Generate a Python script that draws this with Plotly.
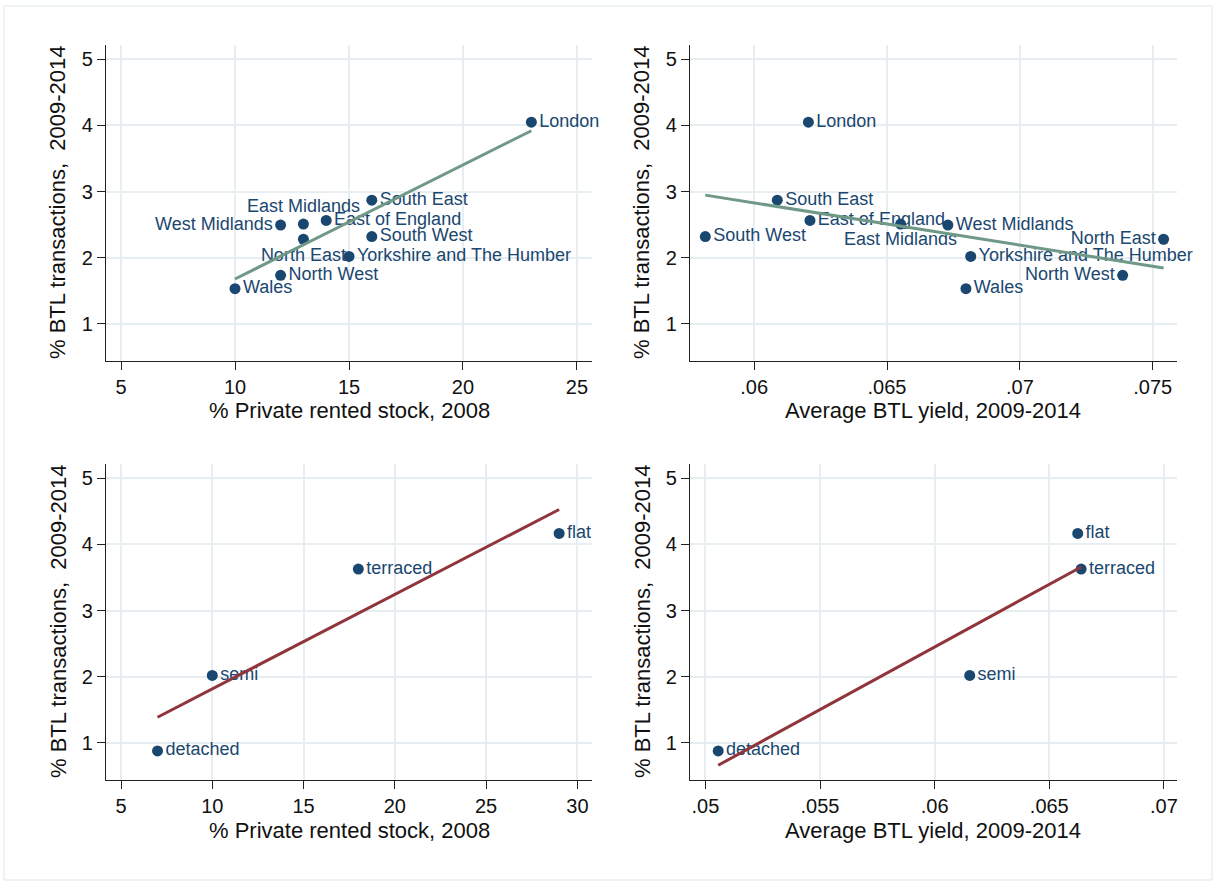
import numpy as np
import plotly.graph_objects as go

# ---------------- data ----------------
regions = ["London", "South East", "East of England", "East Midlands", "West Midlands",
           "North East", "South West", "Yorkshire and The Humber", "North West", "Wales"]
region_btl = [4.05, 2.87, 2.565, 2.51, 2.495, 2.28, 2.32, 2.02, 1.735, 1.533]
region_prs = [23, 16, 14, 13, 12, 13, 16, 15, 12, 10]
region_yield = [0.06204, 0.06087, 0.0621, 0.06551, 0.06729, 0.07541, 0.05816, 0.06815, 0.07387, 0.06797]

types = ["flat", "terraced", "semi", "detached"]
type_btl = [4.166, 3.628, 2.02, 0.879]
type_prs = [29, 18, 10, 7]
type_yield = [0.06624, 0.06639, 0.06153, 0.05056]

y_ticks = [1, 2, 3, 4, 5]
prs_ticks_top = [5, 10, 15, 20, 25]
yield_ticks_top = [0.06, 0.065, 0.07, 0.075]
yield_labels_top = [".06", ".065", ".07", ".075"]
prs_ticks_bot = [5, 10, 15, 20, 25, 30]
yield_ticks_bot = [0.05, 0.055, 0.06, 0.065, 0.07]
yield_labels_bot = [".05", ".055", ".06", ".065", ".07"]

x_title_prs = "% Private rented stock, 2008"
x_title_yield = "Average BTL yield, 2009-2014"
y_title = "% BTL transactions,  2009-2014"

# label positions (style)
pos_tl = ["middle right", "middle right", "middle right", "top center", "middle left",
          "bottom center", "middle right", "middle right", "middle right", "middle right"]
pos_tr = ["middle right", "middle right", "middle right", "bottom center", "middle right",
          "middle left", "middle right", "middle right", "middle left", "middle right"]
pos_b = ["middle right"] * 4

NAVY = "#1a476f"
TEAL = "#6f9886"
MAROON = "#90353b"
GRID = "#e6eef1"
AXC = "#222222"
FONT = "Liberation Sans, Arial, sans-serif"

W, H = 1213, 881


def px_x(p):
    return p / W


def px_y(p):
    return 1 - p / H


fig = go.Figure()


def add_panel(idx, xs, ys, labels, positions, line_color):
    xa = "x" if idx == 1 else f"x{idx}"
    ya = "y" if idx == 1 else f"y{idx}"
    fig.add_trace(go.Scatter(
        x=xs, y=ys, mode="markers+text", text=labels, textposition=positions,
        marker=dict(color=NAVY, size=11, line=dict(width=0)),
        textfont=dict(color=NAVY, size=18, family=FONT),
        xaxis=xa, yaxis=ya, showlegend=False, cliponaxis=False))
    b, a = np.polyfit(np.array(xs, float), np.array(ys, float), 1)
    xf = np.array([min(xs), max(xs)], float)
    fig.add_trace(go.Scatter(
        x=xf, y=a + b * xf, mode="lines", line=dict(color=line_color, width=3),
        xaxis=xa, yaxis=ya, showlegend=False, hoverinfo="skip"))


add_panel(1, region_prs, region_btl, regions, pos_tl, TEAL)
add_panel(2, region_yield, region_btl, regions, pos_tr, TEAL)
add_panel(3, type_prs, type_btl, types, pos_b, MAROON)
add_panel(4, type_yield, type_btl, types, pos_b, MAROON)

common = dict(showline=True, linecolor=AXC, linewidth=1.3, ticks="outside", ticklen=8,
              tickcolor=AXC, tickwidth=1.3, showgrid=True, gridcolor=GRID, gridwidth=1.5,
              zeroline=False, mirror=False, automargin=False,
              tickfont=dict(size=20, color="#111111", family=FONT))

left_dom = [px_x(106), px_x(592)]
right_dom = [px_x(690), px_x(1177)]
top_dom = [px_y(361), px_y(45)]
bot_dom = [px_y(780), px_y(464)]
y_range = [0.44, 5.216]

fig.update_layout(
    width=W, height=H, margin=dict(l=0, r=0, t=0, b=0),
    paper_bgcolor="white", plot_bgcolor="white",
    font=dict(family=FONT),
    xaxis=dict(domain=left_dom, range=[4.34, 25.66], tickvals=prs_ticks_top, anchor="y", **common),
    yaxis=dict(domain=top_dom, range=y_range, tickvals=y_ticks, anchor="x", **common),
    xaxis2=dict(domain=right_dom, range=[0.057584, 0.075915], tickvals=yield_ticks_top,
                ticktext=yield_labels_top, anchor="y2", **common),
    yaxis2=dict(domain=top_dom, range=y_range, tickvals=y_ticks, anchor="x2", **common),
    xaxis3=dict(domain=left_dom, range=[4.178, 30.8], tickvals=prs_ticks_bot, anchor="y3", **common),
    yaxis3=dict(domain=bot_dom, range=y_range, tickvals=y_ticks, anchor="x3", **common),
    xaxis4=dict(domain=right_dom, range=[0.04933, 0.07057], tickvals=yield_ticks_bot,
                ticktext=yield_labels_bot, anchor="y4", **common),
    yaxis4=dict(domain=bot_dom, range=y_range, tickvals=y_ticks, anchor="x4", **common),
)

tfont = dict(size=22, color="#111111", family=FONT)
annots = []
for cx, cy, txt in [(349, 410, x_title_prs), (933, 410, x_title_yield),
                    (349, 830, x_title_prs), (933, 830, x_title_yield)]:
    annots.append(dict(x=px_x(cx), y=px_y(cy), xref="paper", yref="paper", text=txt,
                       showarrow=False, xanchor="center", yanchor="middle", font=tfont))
for cx, cy in [(58, 203), (642, 203), (58, 622), (642, 622)]:
    annots.append(dict(x=px_x(cx), y=px_y(cy), xref="paper", yref="paper", text=y_title,
                       showarrow=False, xanchor="center", yanchor="middle", textangle=-90,
                       font=tfont))
fig.update_layout(annotations=annots)

fig.add_shape(type="rect", xref="paper", yref="paper", x0=px_x(4), x1=px_x(1212),
              y0=px_y(880), y1=px_y(6), line=dict(color="#e9eff2", width=1.5), layer="below")

fig.write_html("out.html")
